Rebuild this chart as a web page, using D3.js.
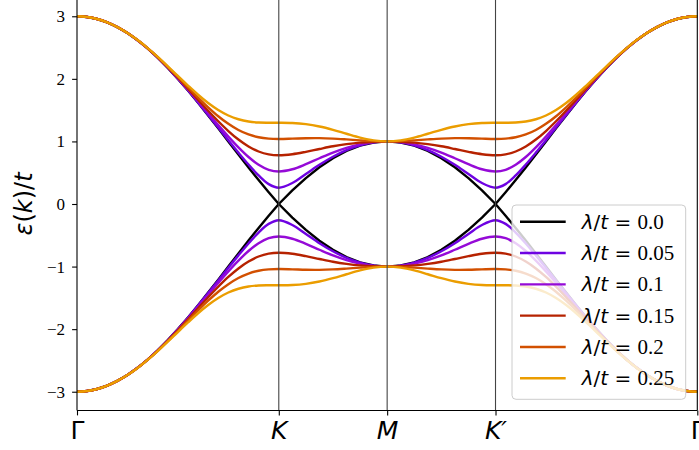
<!DOCTYPE html>
<html>
<head>
<meta charset="utf-8">
<script src="https://cdn.jsdelivr.net/npm/d3@7"></script>
<style>
  html, body { margin: 0; padding: 0; background: #fff; }
  svg { display: block; }
</style>
</head>
<body>
<svg id="chart" width="699" height="450"></svg>
<script>
// Band structure of the honeycomb lattice along Γ–K–M–K′–Γ
// for several spin–orbit couplings λ/t.

// Path coordinate of every sample point (Γ = 0, K = 1, M, K′, Γ)
const kPath = [0.00, 0.05, 0.10, 0.15, 0.20, 0.25, 0.30, 0.35, 0.40, 0.45, 0.50, 0.55, 0.60, 0.65, 0.70, 0.75, 0.80, 0.85, 0.90, 0.95, 1.00,
  1.0671, 1.1343, 1.2014, 1.2685, 1.3356, 1.4028, 1.4699, 1.5370,
  1.6041, 1.6713, 1.7384, 1.8055, 1.8726, 1.9398, 2.0069, 2.0740,
  2.124, 2.174, 2.224, 2.274, 2.324, 2.374, 2.424, 2.474, 2.524, 2.574, 2.624, 2.674, 2.724, 2.774, 2.824, 2.874, 2.924, 2.974, 3.024, 3.074];

const kTicks = [0, 1, 1.537, 2.074, 3.074];
const kTickLabels = ["Γ", "K", "M", "K′", "Γ"];
const energyTicks = [-3, -2, -1, 0, 1, 2, 3];

const lambdas = [0.0, 0.05, 0.1, 0.15, 0.2, 0.25];
const lambdaLabels = ["0.0", "0.05", "0.1", "0.15", "0.2", "0.25"];
const lineColors = ["#000000", "#6e02e2", "#950ad7", "#b62200", "#d25000", "#eb9d00"];

// Upper (conduction) bands ε(k)/t
const upper000 = [3.000, 2.989, 2.956, 2.902, 2.827, 2.732, 2.618, 2.486, 2.338, 2.176, 2.000, 1.813, 1.618, 1.416, 1.209, 1.000, 0.791, 0.584, 0.382, 0.187, 0.000, 0.218, 0.414, 0.587, 0.732, 0.848, 0.932, 0.983, 1.000, 0.983, 0.932, 0.848, 0.732, 0.587, 0.414, 0.218, 0.000, 0.187, 0.382, 0.584, 0.791, 1.000, 1.209, 1.416, 1.618, 1.813, 2.000, 2.176, 2.338, 2.486, 2.618, 2.732, 2.827, 2.902, 2.956, 2.989, 3.000];
const upper005 = [3.000, 2.989, 2.956, 2.902, 2.827, 2.732, 2.618, 2.487, 2.339, 2.177, 2.002, 1.817, 1.623, 1.424, 1.222, 1.020, 0.821, 0.630, 0.456, 0.318, 0.260, 0.335, 0.479, 0.626, 0.755, 0.860, 0.937, 0.984, 1.000, 0.984, 0.937, 0.860, 0.755, 0.626, 0.479, 0.335, 0.260, 0.318, 0.456, 0.630, 0.821, 1.020, 1.222, 1.424, 1.623, 1.817, 2.002, 2.177, 2.339, 2.487, 2.618, 2.732, 2.827, 2.902, 2.956, 2.989, 3.000];
const upper010 = [3.000, 2.989, 2.956, 2.902, 2.827, 2.732, 2.618, 2.487, 2.340, 2.180, 2.007, 1.826, 1.639, 1.449, 1.260, 1.077, 0.905, 0.751, 0.628, 0.547, 0.520, 0.555, 0.636, 0.731, 0.822, 0.897, 0.954, 0.988, 1.000, 0.988, 0.954, 0.897, 0.822, 0.731, 0.636, 0.555, 0.520, 0.547, 0.628, 0.751, 0.905, 1.077, 1.260, 1.449, 1.639, 1.826, 2.007, 2.180, 2.340, 2.487, 2.618, 2.732, 2.827, 2.902, 2.956, 2.989, 3.000];
const upper015 = [3.000, 2.989, 2.956, 2.902, 2.827, 2.732, 2.619, 2.488, 2.343, 2.185, 2.017, 1.842, 1.665, 1.490, 1.322, 1.166, 1.030, 0.919, 0.839, 0.793, 0.779, 0.796, 0.834, 0.879, 0.922, 0.956, 0.981, 0.995, 1.000, 0.995, 0.981, 0.956, 0.922, 0.879, 0.834, 0.796, 0.779, 0.793, 0.839, 0.919, 1.030, 1.166, 1.322, 1.490, 1.665, 1.842, 2.017, 2.185, 2.343, 2.488, 2.619, 2.732, 2.827, 2.902, 2.956, 2.989, 3.000];
const upper020 = [3.000, 2.989, 2.956, 2.902, 2.827, 2.733, 2.620, 2.490, 2.347, 2.192, 2.030, 1.865, 1.701, 1.546, 1.403, 1.281, 1.182, 1.111, 1.067, 1.045, 1.039, 1.044, 1.051, 1.052, 1.045, 1.032, 1.017, 1.005, 1.000, 1.005, 1.017, 1.032, 1.045, 1.052, 1.051, 1.044, 1.039, 1.045, 1.067, 1.111, 1.182, 1.281, 1.403, 1.546, 1.701, 1.865, 2.030, 2.192, 2.347, 2.490, 2.620, 2.733, 2.827, 2.902, 2.956, 2.989, 3.000];
const upper025 = [3.000, 2.989, 2.956, 2.902, 2.827, 2.733, 2.620, 2.492, 2.351, 2.201, 2.046, 1.893, 1.746, 1.614, 1.502, 1.414, 1.354, 1.318, 1.302, 1.299, 1.299, 1.295, 1.276, 1.239, 1.186, 1.123, 1.062, 1.017, 1.000, 1.017, 1.062, 1.123, 1.186, 1.239, 1.276, 1.295, 1.299, 1.299, 1.302, 1.318, 1.354, 1.414, 1.502, 1.614, 1.746, 1.893, 2.046, 2.201, 2.351, 2.492, 2.620, 2.733, 2.827, 2.902, 2.956, 2.989, 3.000];

// Lower (valence) bands ε(k)/t
const lower000 = [-3.000, -2.989, -2.956, -2.902, -2.827, -2.732, -2.618, -2.486, -2.338, -2.176, -2.000, -1.813, -1.618, -1.416, -1.209, -1.000, -0.791, -0.584, -0.382, -0.187, 0.000, -0.218, -0.414, -0.587, -0.732, -0.848, -0.932, -0.983, -1.000, -0.983, -0.932, -0.848, -0.732, -0.587, -0.414, -0.218, 0.000, -0.187, -0.382, -0.584, -0.791, -1.000, -1.209, -1.416, -1.618, -1.813, -2.000, -2.176, -2.338, -2.486, -2.618, -2.732, -2.827, -2.902, -2.956, -2.989, -3.000];
const lower005 = [-3.000, -2.989, -2.956, -2.902, -2.827, -2.732, -2.618, -2.487, -2.339, -2.177, -2.002, -1.817, -1.623, -1.424, -1.222, -1.020, -0.821, -0.630, -0.456, -0.318, -0.260, -0.335, -0.479, -0.626, -0.755, -0.860, -0.937, -0.984, -1.000, -0.984, -0.937, -0.860, -0.755, -0.626, -0.479, -0.335, -0.260, -0.318, -0.456, -0.630, -0.821, -1.020, -1.222, -1.424, -1.623, -1.817, -2.002, -2.177, -2.339, -2.487, -2.618, -2.732, -2.827, -2.902, -2.956, -2.989, -3.000];
const lower010 = [-3.000, -2.989, -2.956, -2.902, -2.827, -2.732, -2.618, -2.487, -2.340, -2.180, -2.007, -1.826, -1.639, -1.449, -1.260, -1.077, -0.905, -0.751, -0.628, -0.547, -0.520, -0.555, -0.636, -0.731, -0.822, -0.897, -0.954, -0.988, -1.000, -0.988, -0.954, -0.897, -0.822, -0.731, -0.636, -0.555, -0.520, -0.547, -0.628, -0.751, -0.905, -1.077, -1.260, -1.449, -1.639, -1.826, -2.007, -2.180, -2.340, -2.487, -2.618, -2.732, -2.827, -2.902, -2.956, -2.989, -3.000];
const lower015 = [-3.000, -2.989, -2.956, -2.902, -2.827, -2.732, -2.619, -2.488, -2.343, -2.185, -2.017, -1.842, -1.665, -1.490, -1.322, -1.166, -1.030, -0.919, -0.839, -0.793, -0.779, -0.796, -0.834, -0.879, -0.922, -0.956, -0.981, -0.995, -1.000, -0.995, -0.981, -0.956, -0.922, -0.879, -0.834, -0.796, -0.779, -0.793, -0.839, -0.919, -1.030, -1.166, -1.322, -1.490, -1.665, -1.842, -2.017, -2.185, -2.343, -2.488, -2.619, -2.732, -2.827, -2.902, -2.956, -2.989, -3.000];
const lower020 = [-3.000, -2.989, -2.956, -2.902, -2.827, -2.733, -2.620, -2.490, -2.347, -2.192, -2.030, -1.865, -1.701, -1.546, -1.403, -1.281, -1.182, -1.111, -1.067, -1.045, -1.039, -1.044, -1.051, -1.052, -1.045, -1.032, -1.017, -1.005, -1.000, -1.005, -1.017, -1.032, -1.045, -1.052, -1.051, -1.044, -1.039, -1.045, -1.067, -1.111, -1.182, -1.281, -1.403, -1.546, -1.701, -1.865, -2.030, -2.192, -2.347, -2.490, -2.620, -2.733, -2.827, -2.902, -2.956, -2.989, -3.000];
const lower025 = [-3.000, -2.989, -2.956, -2.902, -2.827, -2.733, -2.620, -2.492, -2.351, -2.201, -2.046, -1.893, -1.746, -1.614, -1.502, -1.414, -1.354, -1.318, -1.302, -1.299, -1.299, -1.295, -1.276, -1.239, -1.186, -1.123, -1.062, -1.017, -1.000, -1.017, -1.062, -1.123, -1.186, -1.239, -1.276, -1.295, -1.299, -1.299, -1.302, -1.318, -1.354, -1.414, -1.502, -1.614, -1.746, -1.893, -2.046, -2.201, -2.351, -2.492, -2.620, -2.733, -2.827, -2.902, -2.956, -2.989, -3.000];

const upperBands = [upper000, upper005, upper010, upper015, upper020, upper025];
const lowerBands = [lower000, lower005, lower010, lower015, lower020, lower025];

// ---- layout ----
const svg = d3.select("#chart");
const plot = { left: 77, right: 697.3, top: -2.5, bottom: 410.5 };

const x = d3.scaleLinear().domain([0, 3.074]).range([plot.left, plot.right]);
const y = d3.scaleLinear().domain([-3.3, 3.3]).range([plot.bottom, plot.top]);

svg.append("defs").append("clipPath").attr("id", "plot-clip")
  .append("rect")
  .attr("x", plot.left).attr("y", plot.top)
  .attr("width", plot.right - plot.left).attr("height", plot.bottom - plot.top);

const bands = svg.append("g").attr("clip-path", "url(#plot-clip)");

lambdas.forEach((lam, i) => {
  const curve = lam === 0 ? d3.curveLinear : d3.curveCatmullRom.alpha(0.5);
  const line = d3.line()
    .x((d, j) => x(kPath[j]))
    .y(d => y(d))
    .curve(curve);
  [upperBands[i], lowerBands[i]].forEach(series => {
    bands.append("path")
      .datum(series)
      .attr("d", line)
      .attr("fill", "none")
      .attr("stroke", lineColors[i])
      .attr("stroke-width", 2.4)
      .attr("stroke-linejoin", "round");
  });
});

// high-symmetry markers at K, M, K′
svg.append("g")
  .selectAll("line")
  .data(kTicks.slice(1, 4))
  .join("line")
  .attr("x1", d => x(d)).attr("x2", d => x(d))
  .attr("y1", plot.top).attr("y2", plot.bottom)
  .attr("stroke", "#444")
  .attr("stroke-width", 1.1);

// ---- axes ----
const yAxis = d3.axisLeft(y)
  .tickValues(energyTicks)
  .tickSize(4.9)
  .tickPadding(7)
  .tickFormat(d => (d < 0 ? "\u2212" + Math.abs(d) : String(d)));

const gy = svg.append("g")
  .attr("transform", `translate(${plot.left},0)`)
  .call(yAxis);
gy.select(".domain").remove();
gy.selectAll(".tick line").attr("stroke", "#000").attr("stroke-width", 1.1);
gy.selectAll(".tick text")
  .attr("font-family", "'Liberation Serif', 'Times New Roman', serif")
  .attr("font-size", 17)
  .attr("fill", "#000");

const xAxis = d3.axisBottom(x)
  .tickValues(kTicks)
  .tickSize(4.9)
  .tickPadding(6)
  .tickFormat((d, i) => kTickLabels[i]);

const gx = svg.append("g")
  .attr("transform", `translate(0,${plot.bottom})`)
  .call(xAxis);
gx.select(".domain").remove();
gx.selectAll(".tick line").attr("stroke", "#000").attr("stroke-width", 1.1);
gx.selectAll(".tick text")
  .attr("font-family", "'DejaVu Sans', sans-serif")
  .attr("font-size", 25)
  .attr("fill", "#000")
  .attr("font-style", (d, i) => (kTickLabels[i] === "Γ" ? "normal" : "italic"));

// spines
const spines = svg.append("g").attr("stroke", "#000").attr("stroke-width", 1.1).attr("fill", "none");
spines.append("line").attr("x1", plot.left).attr("x2", plot.left).attr("y1", plot.top).attr("y2", plot.bottom);
spines.append("line").attr("x1", plot.left).attr("x2", plot.right).attr("y1", plot.bottom).attr("y2", plot.bottom);
spines.append("line").attr("x1", plot.right).attr("x2", plot.right).attr("y1", plot.top).attr("y2", plot.bottom);

// y label ε(k)/t
const ylab = svg.append("text")
  .attr("transform", `translate(32,${y(0)}) rotate(-90)`)
  .attr("text-anchor", "middle")
  .attr("font-family", "'DejaVu Sans', sans-serif")
  .attr("font-size", 24)
  .attr("fill", "#000");
[["ε", "italic"], ["(", "normal"], ["k", "italic"], [")/", "normal"], ["t", "italic"]].forEach(([s, st]) => {
  ylab.append("tspan").attr("font-style", st).text(s);
});

// ---- legend ----
const legend = svg.append("g");
legend.append("rect")
  .attr("x", 512).attr("y", 205)
  .attr("width", 173.7).attr("height", 194.3)
  .attr("rx", 4).attr("ry", 4)
  .attr("fill", "#fff").attr("fill-opacity", 0.8)
  .attr("stroke", "#ccc").attr("stroke-width", 1);

const rowY = d3.scaleLinear().domain([0, 5]).range([221.7, 378.3]);

lambdas.forEach((lam, i) => {
  const cy = rowY(i);
  legend.append("line")
    .attr("x1", 520).attr("x2", 565.7)
    .attr("y1", cy).attr("y2", cy)
    .attr("stroke", lineColors[i])
    .attr("stroke-width", 2.4);
  const t = legend.append("text")
    .attr("x", 581.7).attr("y", cy + 7)
    .attr("font-size", 20)
    .attr("fill", "#000");
  t.append("tspan").attr("font-family", "'DejaVu Sans', sans-serif").attr("font-style", "italic").text("λ");
  t.append("tspan").attr("font-family", "'DejaVu Sans', sans-serif").text("/");
  t.append("tspan").attr("font-family", "'DejaVu Sans', sans-serif").attr("font-style", "italic").text("t");
  t.append("tspan").attr("font-family", "'DejaVu Sans', sans-serif").attr("xml:space", "preserve").text(" = ");
  t.append("tspan").attr("font-family", "'Liberation Serif', 'Times New Roman', serif").attr("font-size", 21).text(lambdaLabels[i]);
});
</script>
</body>
</html>
